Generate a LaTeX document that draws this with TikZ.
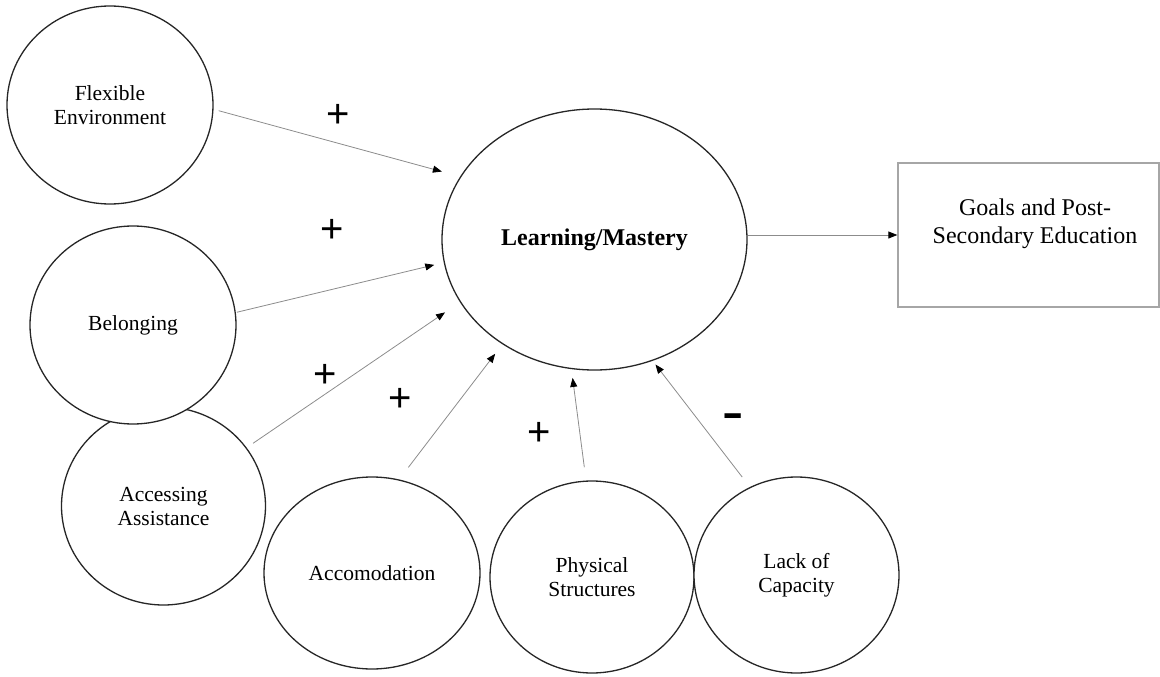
\documentclass[tikz,border=0pt]{standalone}
\usepackage{fontspec}
\setmainfont{Liberation Serif}
\newfontfamily\signfont{Liberation Sans}
\usetikzlibrary{shapes.geometric,arrows.meta,calc}
\tikzset{
  factor/.style={ellipse, draw=black!85, line width=1.3pt, fill=white, inner sep=0pt,
    align=center, font=\fontsize{21.5}{24}\selectfont},
  central/.style={ellipse, draw=black!85, line width=1.3pt, fill=white, inner sep=0pt,
    align=center, font=\fontsize{24}{28}\selectfont\bfseries},
  goalbox/.style={rectangle, draw=black!35, line width=1.3pt, inner sep=0pt},
  goaltext/.style={align=center, inner sep=0pt, font=\fontsize{24}{28}\selectfont},
  link/.style={draw=black!45, line width=0.8pt, -{Triangle[length=9pt,width=7pt,color=black]}},
  sign/.style={anchor=base, inner sep=0pt, font=\signfont\fontsize{40}{40}\selectfont}
}
\begin{document}
\begin{tikzpicture}[x=1pt,y=-1pt]
\useasboundingbox (0,0) rectangle (1160,677);
% factors
\node[factor, minimum width=206pt, minimum height=198pt] (flex) at (110,105) {Flexible\\Environment};
\node[factor, minimum width=204pt, minimum height=198pt] (acc) at (163.5,506) {Accessing\\Assistance};
\node[factor, minimum width=206pt, minimum height=198pt] (bel) at (133,325) {Belonging};
\node[factor, minimum width=216pt, minimum height=192pt] (acm) at (372,573) {Accomodation};
\node[factor, minimum width=204pt, minimum height=192pt] (phy) at (592,577) {Physical\\Structures};
\node[factor, minimum width=205pt, minimum height=196pt] (lack) at (796.5,575) {Lack of\\Capacity};
% central
\node[central, minimum width=305pt, minimum height=261pt] (lm) at (594.5,239.5) {Learning/Mastery};
% outcome
\node[goalbox, minimum width=261pt, minimum height=144pt] (goals) at (1028.5,235) {};
\node[goaltext] (goalslabel) at (1035,224) {Goals and Post-\\Secondary Education};
% links
\draw[link] ($(flex.center)!1.05!(flex.-3.7)$) -- ($(lm.center)!1.123!(lm.156.4)$);
\draw[link] ($(bel.center)!1.01!(bel.7.74)$) -- ($(lm.center)!1.064!(lm.189.08)$);
\draw[link] ($(acc.center)!1.076!(acc.35.45)$) -- ($(lm.center)!1.123!(lm.206.8)$);
\draw[link] ($(acm.center)!1.143!(acm.71.08)$) -- ($(lm.center)!1.086!(lm.229.6)$);
\draw[link] ($(phy.center)!1.138!(phy.94.2)$) -- ($(lm.center)!1.065!(lm.-99.7)$);
\draw[link] ($(lack.center)!1.124!(lack.119.33)$) -- ($(lm.center)!1.033!(lm.-64.08)$);
\draw[link] (lm.east |- goals.west) -- (goals.west);
% signs
\node[sign] (s1) at (338,127) {+};
\node[sign] (s2) at (332,242.4) {+};
\node[sign] (s3) at (325,387.4) {+};
\node[sign] (s4) at (400,411.4) {+};
\node[sign] (s5) at (539,445.4) {+};
\node[sign] (s6) at (733,426) {\scalebox{1.6}[1]{\bfseries -}};
\end{tikzpicture}
\end{document}
